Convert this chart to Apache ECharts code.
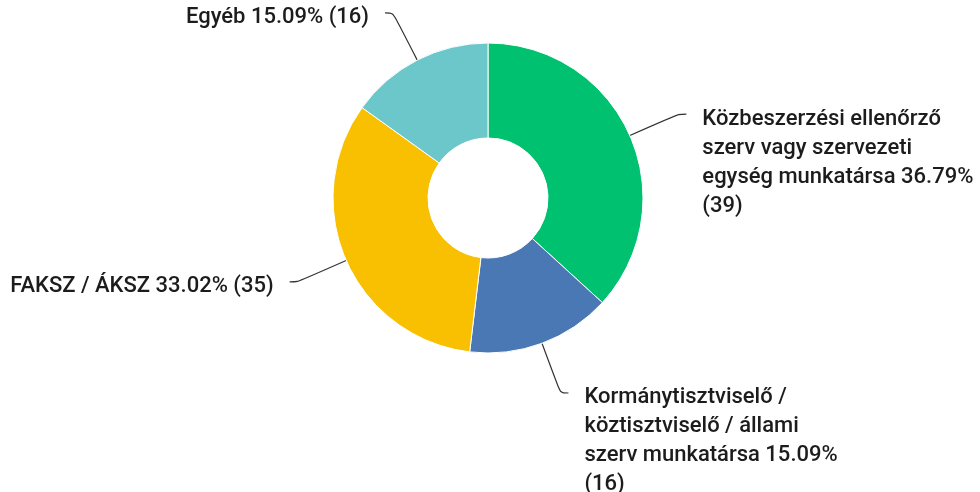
<!DOCTYPE html>
<html>
<head>
<meta charset="utf-8">
<script src="https://cdn.jsdelivr.net/npm/echarts@6/dist/echarts.min.js"></script>
<style>
  html, body { margin: 0; padding: 0; background: #fff; }
  #chart { width: 980px; height: 492px; }
</style>
</head>
<body>
<div id="chart"></div>
<script>
// slices clockwise from 12 o'clock
const categories = [
  'Közbeszerzési ellenőrző\nszerv vagy szervezeti\negység munkatársa',
  'Kormánytisztviselő /\nköztisztviselő / állami\nszerv munkatársa',
  'FAKSZ / ÁKSZ',
  'Egyéb'
];
const counts = [39, 16, 35, 16];
const colors = ['#00c170', '#4a78b4', '#f8c000', '#6cc7cb'];

const total = counts.reduce(function (a, b) { return a + b; }, 0);
const LINE_H = 29;

const chart = echarts.init(document.getElementById('chart'));

const option = {
  animation: false,
  color: colors,
  series: [{
    type: 'pie',
    center: [488, 198],
    radius: [60, 155],
    startAngle: 90,
    clockwise: true,
    avoidLabelOverlap: false,
    itemStyle: {
      borderColor: '#fff',
      borderWidth: 1
    },
    label: {
      show: true,
      position: 'outside',
      color: '#1c1c1c',
      fontFamily: 'Roboto',
      fontWeight: 500,
      fontSize: 22,
      lineHeight: LINE_H,
      overflow: 'none',
      bleedMargin: 0,
      distanceToLabelLine: 16,
      formatter: function (p) {
        const pct = (p.value / total * 100).toFixed(2);
        // multi-line labels put the count on its own line
        const sep = p.name.indexOf('\n') >= 0 ? '\n' : ' ';
        return p.name + ' ' + pct + '%' + sep + '(' + p.value + ')';
      }
    },
    labelLine: {
      show: true,
      length: 53,
      length2: 8,
      smooth: 0.3,
      lineStyle: { color: '#333', width: 1.2 }
    },
    // line ends at the first text line, not at the middle of the block
    labelLayout: function (p) {
      const pts = p.labelLinePoints;
      if (!pts) return {};
      const end = pts[pts.length - 1];
      return { y: end[1] - LINE_H / 2 + 5, verticalAlign: 'top', labelLinePoints: pts };
    },
    emphasis: { disabled: true },
    data: categories.map(function (name, i) {
      return { name: name, value: counts[i] };
    })
  }]
};

chart.setOption(option);
</script>
</body>
</html>
